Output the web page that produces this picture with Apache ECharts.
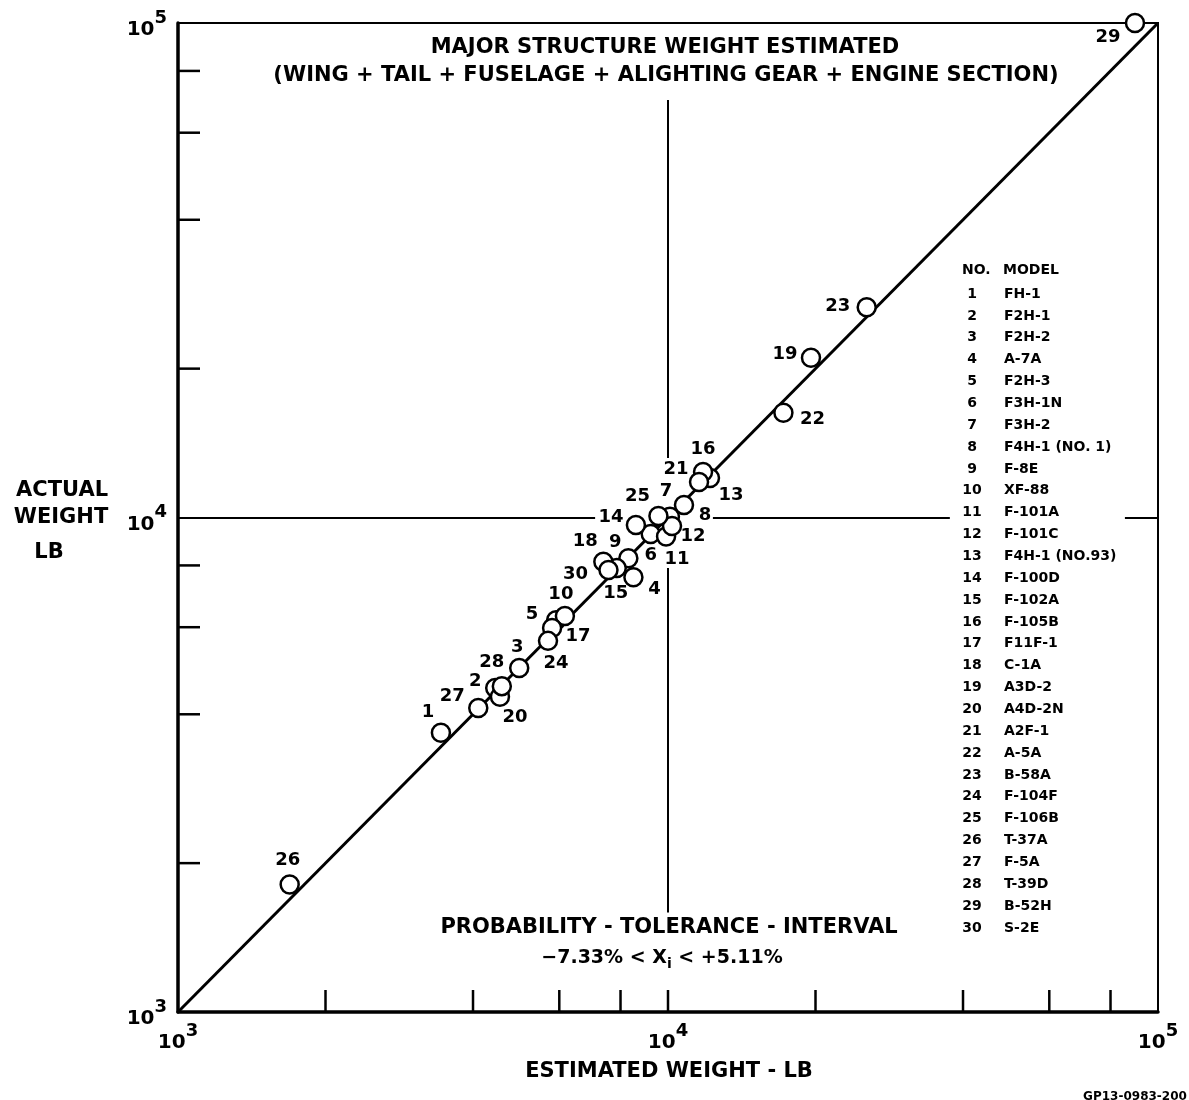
<!DOCTYPE html>
<html>
<head>
<meta charset="utf-8">
<script src="https://cdn.jsdelivr.net/npm/echarts@6/dist/echarts.min.js"></script>
<style>
  html, body { margin: 0; padding: 0; background: #fff; }
  #main { width: 1189px; height: 1100px; }
</style>
</head>
<body>
<div id="main"></div>
<script>
// aircraft no. 1..30
const models = [
  "FH-1", "F2H-1", "F2H-2", "A-7A", "F2H-3", "F3H-1N", "F3H-2", "F4H-1 (NO. 1)",
  "F-8E", "XF-88", "F-101A", "F-101C", "F4H-1 (NO.93)", "F-100D", "F-102A",
  "F-105B", "F11F-1", "C-1A", "A3D-2", "A4D-2N", "A2F-1", "A-5A", "B-58A",
  "F-104F", "F-106B", "T-37A", "F-5A", "T-39D", "B-52H", "S-2E"
];
// estimated weight, lb
const estimated = [
  3440, 4440, 4970, 8500, 5910, 9220, 10090, 10780, 8300, 6160,
  9910, 10190, 12180, 8600, 7860, 11790, 5800, 7380, 19580, 4540,
  11570, 17200, 25440, 5690, 9560, 1690, 4100, 4580, 89750, 7560
];
// actual weight, lb
const actual = [
  3670, 4520, 4960, 7570, 6200, 9260, 10040, 10600, 8270, 6320,
  9150, 9610, 12020, 9660, 7900, 12360, 5980, 8140, 21050, 4340,
  11800, 16290, 26610, 5630, 10070, 1810, 4120, 4560, 100000, 7830
];
// perfect agreement line
const diagonal = [[1000, 1000], [100000, 100000]];
// minor ticks
const xTicks = [2000, 4000, 6000, 8000, 10000, 20000, 40000, 60000, 80000];
const yTicks = [2000, 4000, 6000, 8000, 20000, 40000, 60000, 80000];
// reference lines at 10^4 (broken where text sits)
const vLine = [[69870, 13190], [7900, 1590]];
const hLine = [[1000, 7100], [12350, 37600], [85600, 100000]];

// label placement around each circle [dx, dy]
const labelOffset = {
  1: [-13, -20], 2: [-20, -7], 3: [-2, -21], 4: [21, 12], 5: [-24, -6],
  6: [0, 21], 7: [-4, -25], 8: [21, 10], 9: [-13, -16], 10: [-4, -22],
  11: [11, 23], 12: [21, 10], 13: [21, 17], 14: [-25, -8], 15: [-1, 25],
  16: [0, -23], 17: [26, 8], 18: [-18, -20], 19: [-26, -3], 20: [15, 21],
  21: [-23, -13], 22: [29, 7], 23: [-29, -1], 24: [8, 22], 25: [-21, -20],
  26: [-2, -24], 27: [-26, -12], 28: [-10, -24], 29: [-27, 14], 30: [-33, 4]
};

const FONT = "DejaVu Sans, Liberation Sans, Arial, sans-serif";

const chart = echarts.init(document.getElementById("main"));

const points = estimated.map((x, i) => ({
  value: [x, actual[i]],
  name: String(i + 1),
  label: { offset: labelOffset[i + 1] }
}));

const powLabel = function (v) {
  return "{b|10}{s|" + Math.round(Math.log10(v)) + "}";
};
const powRich = {
  b: { fontSize: 20, fontWeight: "bold", fontFamily: FONT, color: "#000", lineHeight: 22 },
  s: { fontSize: 18, fontWeight: "bold", fontFamily: FONT, color: "#000", lineHeight: 22, padding: [0, 0, 24, 0] }
};

// tick marks drawn inward
function tickRender(isX) {
  return function (params, api) {
    const p = api.coord([api.value(0), api.value(1)]);
    const q = isX ? [p[0], p[1] - 22] : [p[0] + 22, p[1]];
    return {
      type: "line",
      shape: { x1: p[0], y1: p[1], x2: q[0], y2: q[1] },
      style: { stroke: "#000", lineWidth: 2.5 }
    };
  };
}

const legendGraphics = [];
legendGraphics.push({
  type: "text", left: 962, top: 263,
  style: { text: "NO.", font: "bold 14px " + FONT, fill: "#000" }
});
legendGraphics.push({
  type: "text", left: 1003, top: 263,
  style: { text: "MODEL", font: "bold 14px " + FONT, fill: "#000" }
});
models.forEach(function (m, i) {
  const y = 287 + i * 21.86;
  legendGraphics.push({
    type: "text", x: 972, y: y,
    style: { text: String(i + 1), font: "bold 14px " + FONT, fill: "#000", align: "center", verticalAlign: "top" }
  });
  legendGraphics.push({
    type: "text", x: 1004, y: y,
    style: { text: m, font: "bold 14px " + FONT, fill: "#000", align: "left", verticalAlign: "top" }
  });
});

function centerText(x, y, text, size) {
  return {
    type: "text", x: x, y: y,
    style: { text: text, font: "bold " + size + "px " + FONT, fill: "#000", align: "center", verticalAlign: "middle" }
  };
}

const option = {
  backgroundColor: "#fff",
  animation: false,
  grid: {
    left: 178, right: 31, top: 23, bottom: 88,
    show: true, borderColor: "#000", borderWidth: 2
  },
  xAxis: {
    type: "log", logBase: 10, min: 1000, max: 100000,
    axisLine: { onZero: false, lineStyle: { color: "#000", width: 3.5 } },
    axisTick: { show: false },
    splitLine: { show: false },
    axisLabel: { formatter: powLabel, rich: powRich, margin: 20, showMinLabel: true, showMaxLabel: true }
  },
  yAxis: {
    type: "log", logBase: 10, min: 1000, max: 100000,
    axisLine: { onZero: false, lineStyle: { color: "#000", width: 3.5 } },
    axisTick: { show: false },
    splitLine: { show: false },
    axisLabel: { formatter: powLabel, rich: powRich, margin: 11, padding: [14, 0, 0, 0], showMinLabel: true, showMaxLabel: true }
  },
  graphic: [
    centerText(665, 48, "MAJOR STRUCTURE WEIGHT ESTIMATED", 21),
    centerText(666, 76, "(WING + TAIL + FUSELAGE + ALIGHTING GEAR + ENGINE SECTION)", 21),
    centerText(669, 928, "PROBABILITY - TOLERANCE - INTERVAL", 21),
    {
      type: "text", x: 662, y: 958,
      style: {
        text: "{a|\u22127.33% < X}{i|i}{a| < +5.11%}",
        align: "center", verticalAlign: "middle",
        rich: {
          a: { font: "bold 19px " + FONT, fill: "#000", lineHeight: 22 },
          i: { font: "bold 14px " + FONT, fill: "#000", lineHeight: 22, padding: [12, 0, 0, 0] }
        }
      }
    },
    centerText(62, 491, "ACTUAL", 21),
    centerText(61, 518, "WEIGHT", 21),
    centerText(49, 553, "LB", 21),
    centerText(669, 1072, "ESTIMATED WEIGHT - LB", 21),
    {
      type: "text", x: 1135, y: 1097,
      style: { text: "GP13-0983-200", font: "bold 12px " + FONT, fill: "#000", align: "center", verticalAlign: "middle" }
    }
  ].concat(legendGraphics),
  series: [
    {
      type: "line",
      data: diagonal,
      symbol: "none",
      lineStyle: { color: "#000", width: 3 },
      silent: true,
      z: 2,
      markLine: {
        silent: true,
        symbol: "none",
        label: { show: false },
        lineStyle: { color: "#000", width: 2, type: "solid" },
        data: vLine.map(s => [{ coord: [10000, s[0]] }, { coord: [10000, s[1]] }])
          .concat(hLine.map(s => [{ coord: [s[0], 10000] }, { coord: [s[1], 10000] }]))
      }
    },
    {
      type: "custom",
      data: xTicks.map(v => [v, 1000]),
      renderItem: tickRender(true),
      silent: true, z: 3
    },
    {
      type: "custom",
      data: yTicks.map(v => [1000, v]),
      renderItem: tickRender(false),
      silent: true, z: 3
    },
    {
      type: "scatter",
      data: points,
      symbol: "circle",
      symbolSize: 18,
      clip: false,
      z: 5,
      itemStyle: { color: "#fff", borderColor: "#000", borderWidth: 2.5, opacity: 1 },
      label: {
        show: true,
        position: "inside",
        formatter: "{b}",
        color: "#000",
        fontSize: 18,
        fontWeight: "bold",
        fontFamily: FONT
      }
    }
  ]
};

chart.setOption(option);
</script>
</body>
</html>
